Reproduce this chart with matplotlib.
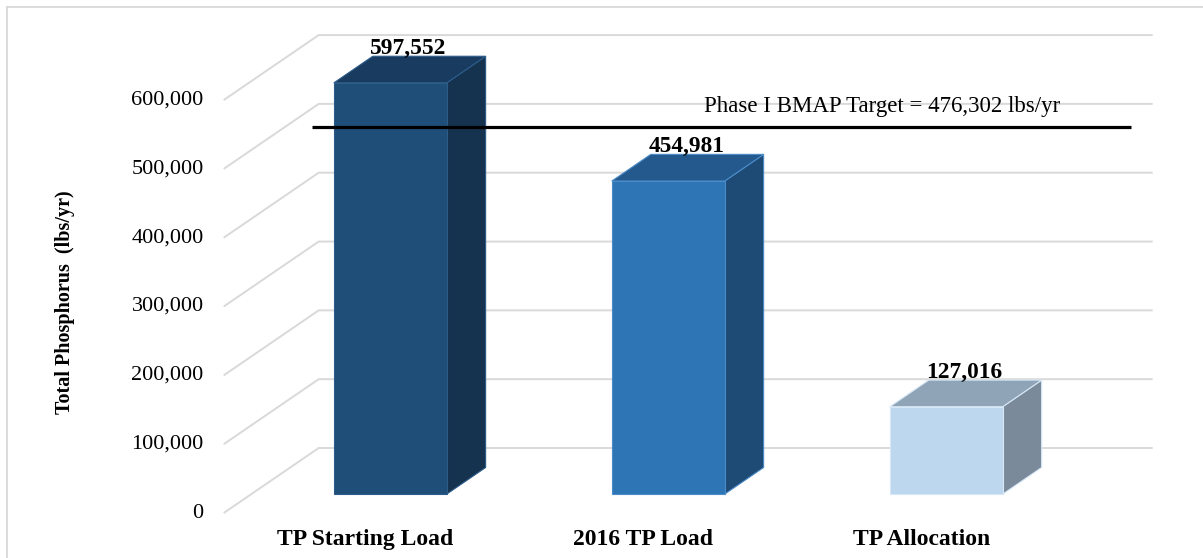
import matplotlib
matplotlib.use('Agg')
import matplotlib.pyplot as plt
from matplotlib.patches import Polygon
from matplotlib.lines import Line2D

# ---------------- data ----------------
categories = ['TP Starting Load', '2016 TP Load', 'TP Allocation']
values = [597552, 454981, 127016]
value_labels = ['597,552', '454,981', '127,016']
target_value = 476302
target_label = 'Phase I BMAP Target = 476,302 lbs/yr'
y_ticks = [0, 100000, 200000, 300000, 400000, 500000, 600000]
y_tick_labels = ['0', '100,000', '200,000', '300,000', '400,000', '500,000', '600,000']
y_label = 'Total Phosphorus  (lbs/yr)'

# ---------------- style ----------------
front_colors = ['#1F4E79', '#2E75B6', '#BDD7EE']
top_colors = ['#183B5F', '#23598C', '#8FA4B7']
side_colors = ['#15324F', '#1E4A76', '#7A8A9A']
edge_colors = ['#2C5C8A', '#4A8BC8', '#D6E7F6']
grid_color = '#D9D9D9'
serif = ['Liberation Serif', 'DejaVu Serif']

W, H, DPI = 1203, 558, 100
fig = plt.figure(figsize=(W / DPI, H / DPI), dpi=DPI)
ax = fig.add_axes([0, 0, 1, 1])
ax.set_axis_off()

# linear scales: category unit = 278 px, 1 px = 1453 value units
CAT_PX = 278.0
VAL_PER_PX = 1453.0
x0_px, y0_px = 362.7, 513.0   # category 0 / value 0 on the front wall
ax.set_xlim(-x0_px / CAT_PX, (W - x0_px) / CAT_PX)
ax.set_ylim(-(H - y0_px) * VAL_PER_PX, y0_px * VAL_PER_PX)

# depth projection (oblique 3-D)
DX = 95.0 / CAT_PX          # x shift at the back wall (category units)
DY = 65.0 * VAL_PER_PX      # y shift at the back wall (value units)


def proj(x, y, d):
    return (x + d * DX, y + d * DY)


x_left, x_right = -0.5, 2.5
bar_w = 0.406
d_front, d_back = 0.29, 0.70

# gridlines: left wall diagonals + back wall horizontals
for v in y_ticks:
    p0 = proj(x_left, v, 0.0)
    p1 = proj(x_left, v, 1.0)
    p2 = proj(x_right, v, 1.0)
    ax.plot([p0[0], p1[0], p2[0]], [p0[1], p1[1], p2[1]],
            color=grid_color, lw=1.4, zorder=1, solid_capstyle='butt')

# 3-D bars
for i, v in enumerate(values):
    xl, xr = i - bar_w / 2, i + bar_w / 2
    front = [proj(xl, 0, d_front), proj(xr, 0, d_front),
             proj(xr, v, d_front), proj(xl, v, d_front)]
    top = [proj(xl, v, d_front), proj(xr, v, d_front),
           proj(xr, v, d_back), proj(xl, v, d_back)]
    side = [proj(xr, 0, d_front), proj(xr, 0, d_back),
            proj(xr, v, d_back), proj(xr, v, d_front)]
    for poly, col in ((side, side_colors[i]), (top, top_colors[i]),
                      (front, front_colors[i])):
        ax.add_patch(Polygon(poly, closed=True, facecolor=col,
                             edgecolor=edge_colors[i], lw=0.8, zorder=3,
                             joinstyle='miter'))
    # value label above the top face
    cx, cy = proj(i, v, (d_front + d_back) / 2)
    ax.annotate(value_labels[i], (cx, cy), xytext=(-1, 11), textcoords='offset points',
                ha='center', va='baseline', fontsize=16.8, fontweight='bold',
                family=serif, color='black', zorder=5)

# target line
d_line = 0.895
lx0, ly = proj(-0.488, target_value, d_line)
lx1, _ = proj(2.458, target_value, d_line)
ax.plot([lx0, lx1], [ly, ly], color='black', lw=2.3, zorder=4, solid_capstyle='butt')
tx, ty = proj(1.564, target_value, d_line)
ax.annotate(target_label, (tx, ty), xytext=(0, 10.8), textcoords='offset points',
            ha='center', va='baseline', fontsize=16.5, family=serif, color='black', zorder=5)

# y tick labels on the front wall
for v, lab in zip(y_ticks, y_tick_labels):
    ax.annotate(lab, proj(x_left, v, 0.0), xytext=(-14.4, 0), textcoords='offset points',
                ha='right', va='center', fontsize=16, family=serif, color='black')

# category labels
for i, cat in enumerate(categories):
    ax.annotate(cat, proj(i, 0, 0.0), xytext=(2, -23), textcoords='offset points',
                ha='center', va='baseline', fontsize=17, fontweight='bold',
                family=serif, color='black')

# y axis title
fig.text(65 / W, 1 - 302 / H, y_label, rotation=90, ha='center', va='center',
         fontsize=14.5, fontweight='bold', family=serif, color='black')

# chart area border (top and left visible)
fig.add_artist(Line2D([6.5 / W, 1.0], [1 - 6.5 / H, 1 - 6.5 / H],
                      transform=fig.transFigure, color=grid_color, lw=1.3))
fig.add_artist(Line2D([6.5 / W, 6.5 / W], [0.0, 1 - 6.5 / H],
                      transform=fig.transFigure, color=grid_color, lw=1.3))

fig.savefig('out.png', dpi=DPI, facecolor='white')
